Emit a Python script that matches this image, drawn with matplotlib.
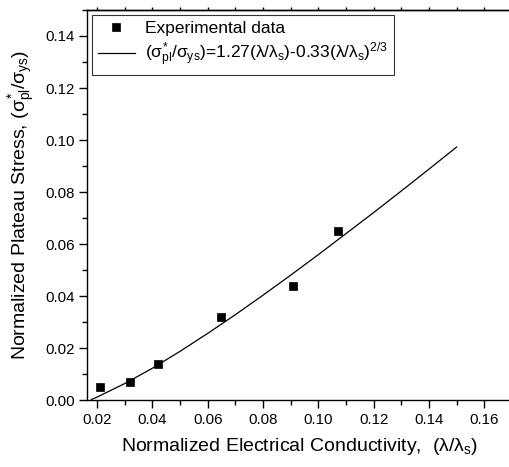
import matplotlib
matplotlib.use("Agg")
import matplotlib.pyplot as plt
from matplotlib.ticker import MultipleLocator, FormatStrFormatter

plt.rcParams['font.family'] = ['Liberation Sans', 'DejaVu Sans']
plt.rcParams['mathtext.fontset'] = 'custom'
plt.rcParams['mathtext.rm'] = 'Liberation Sans'
plt.rcParams['mathtext.it'] = 'Liberation Sans'
plt.rcParams['mathtext.bf'] = 'Liberation Sans:bold'

# Experimental data
exp_x = [0.021, 0.032, 0.042, 0.065, 0.091, 0.107]
exp_y = [0.005, 0.007, 0.014, 0.032, 0.044, 0.065]

# Fitted curve
fit_x = [0.018, 0.02, 0.03, 0.04, 0.05, 0.06, 0.07, 0.08, 0.09, 0.10, 0.11, 0.12, 0.13, 0.14, 0.15]
fit_y = [0.0002, 0.0011, 0.0063, 0.0122, 0.0187, 0.0256, 0.0328, 0.0403, 0.0480, 0.0559,
         0.0640, 0.0721, 0.0804, 0.0888, 0.0973]

fig = plt.figure(figsize=(5.09, 4.67), dpi=100)
ax = fig.add_axes([87/509, 67/467, 425/509, 390/467])

ax.plot(exp_x, exp_y, 's', color='black', markersize=6.3, markeredgewidth=0.5,
        label='Experimental data', zorder=3)
ax.plot(fit_x, fit_y, '-', color='black', linewidth=0.9,
        label=r'$(\sigma^{*}_{pl}/\sigma_{ys})$=1.27$(\lambda/\lambda_{s})$-0.33$(\lambda/\lambda_{s})^{2/3}\hspace{1.0}$')

ax.set_xlim(0.0164, 0.17)
ax.set_ylim(0.0, 0.15)
ax.xaxis.set_major_locator(MultipleLocator(0.02))
ax.xaxis.set_minor_locator(MultipleLocator(0.01))
ax.yaxis.set_major_locator(MultipleLocator(0.02))
ax.yaxis.set_minor_locator(MultipleLocator(0.01))
ax.xaxis.set_major_formatter(FormatStrFormatter('%.2f'))
ax.yaxis.set_major_formatter(FormatStrFormatter('%.2f'))

ax.tick_params(axis='both', which='major', direction='out', length=6, width=1, labelsize=10.8, pad=3)
ax.tick_params(axis='both', which='minor', direction='out', length=3.5, width=1)
ax.spines['right'].set_visible(False)
for s in ['left', 'bottom', 'top']:
    ax.spines[s].set_linewidth(1.0)

# small ticks along the top edge
top = ax.secondary_xaxis('top')
top.xaxis.set_major_locator(MultipleLocator(0.01))
top.tick_params(axis='x', which='major', direction='out', length=2, width=1, labelsize=0, labeltop=False)
top.tick_params(axis='x', which='minor', length=0)
top.spines['top'].set_linewidth(1.0)

ax.set_xlabel(r'Normalized Electrical Conductivity,  $(\lambda/\lambda_{s})$', fontsize=14, labelpad=7)
ax.set_ylabel(r'Normalized Plateau Stress, $(\sigma^{*}_{pl}/\sigma_{ys})$', fontsize=14, labelpad=6)

leg = ax.legend(loc='upper left', bbox_to_anchor=(0.012, 0.987), fontsize=12.5, frameon=True,
                fancybox=False, edgecolor='black', borderpad=0.35, handlelength=2.1,
                handletextpad=0.6, labelspacing=0.25, borderaxespad=0.0)
leg.get_frame().set_linewidth(0.8)

fig.savefig('out.png', dpi=100)
